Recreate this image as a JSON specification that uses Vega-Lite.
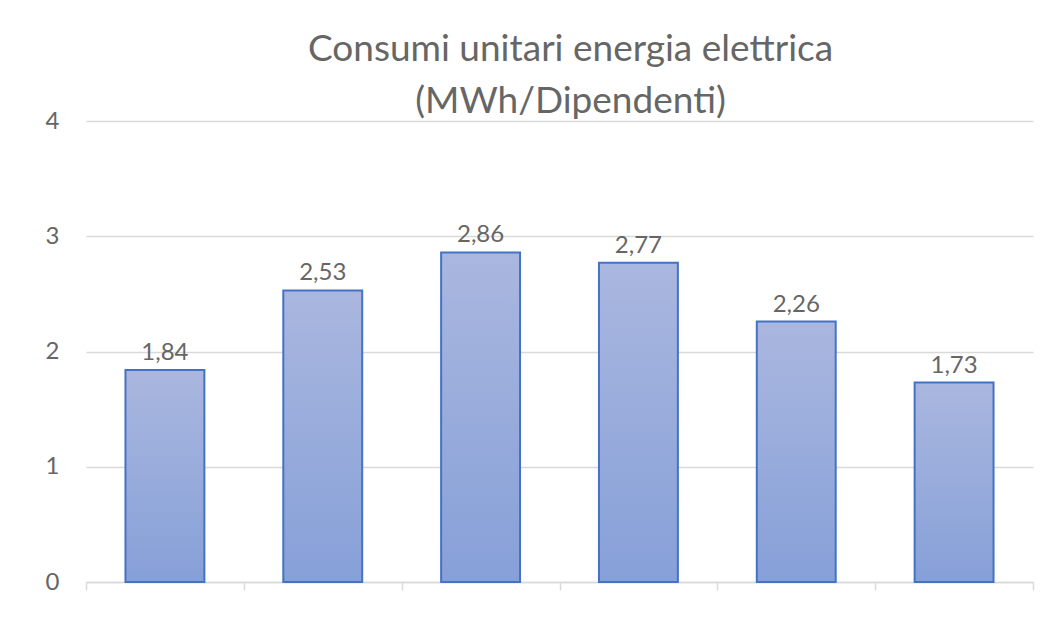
{
  "$schema": "https://vega.github.io/schema/vega-lite/v6.json",
  "width": 947,
  "height": 461,
  "autosize": {"type": "none"},
  "padding": {"left": 86, "top": 121, "right": 24, "bottom": 62},
  "background": "white",
  "config": {
    "view": {"stroke": null},
    "font": "Lato",
    "locale": {"number": {"decimal": ",", "thousands": ".", "grouping": [3], "currency": ["", " €"]}}
  },
  "title": {
    "text": ["Consumi  unitari  energia  elettrica", "(MWh/Dipendenti)"],
    "fontSize": 37,
    "fontWeight": "normal",
    "color": "#666666",
    "font": "Lato",
    "anchor": "middle",
    "dx": 11,
    "offset": -12,
    "lineHeight": 52
  },
  "data": {
    "values": [
      {"anno": "A", "valore": 1.84},
      {"anno": "B", "valore": 2.53},
      {"anno": "C", "valore": 2.86},
      {"anno": "D", "valore": 2.77},
      {"anno": "E", "valore": 2.26},
      {"anno": "F", "valore": 1.73}
    ]
  },
  "encoding": {
    "x": {
      "field": "anno",
      "type": "nominal",
      "sort": null,
      "scale": {"paddingInner": 0, "paddingOuter": 0},
      "axis": {
        "title": null,
        "labels": false,
        "tickBand": "extent",
        "ticks": true,
        "tickSize": 8,
        "tickColor": "#D9D9D9",
        "tickWidth": 1.5,
        "domainColor": "#D9D9D9",
        "domainWidth": 1.5,
        "grid": false
      }
    },
    "y": {
      "field": "valore",
      "type": "quantitative",
      "scale": {"domain": [0, 4], "nice": false},
      "axis": {
        "title": null,
        "values": [0, 1, 2, 3, 4],
        "format": "d",
        "domain": false,
        "ticks": false,
        "labelPadding": 27,
        "labelFontSize": 24,
        "labelColor": "#666666",
        "gridColor": "#D9D9D9",
        "gridWidth": 1.5
      }
    }
  },
  "layer": [
    {
      "mark": {
        "type": "bar",
        "width": {"band": 0.5},
        "stroke": "#4472C4",
        "strokeWidth": 2,
        "color": {
          "gradient": "linear",
          "x1": 0, "y1": 0, "x2": 0, "y2": 1,
          "stops": [
            {"offset": 0, "color": "#AAB7DF"},
            {"offset": 1, "color": "#86A0D8"}
          ]
        }
      }
    },
    {
      "mark": {
        "type": "text",
        "baseline": "bottom",
        "dy": -5,
        "fontSize": 24,
        "color": "#666666"
      },
      "encoding": {
        "text": {"field": "valore", "type": "quantitative", "format": ".2f"}
      }
    }
  ]
}
